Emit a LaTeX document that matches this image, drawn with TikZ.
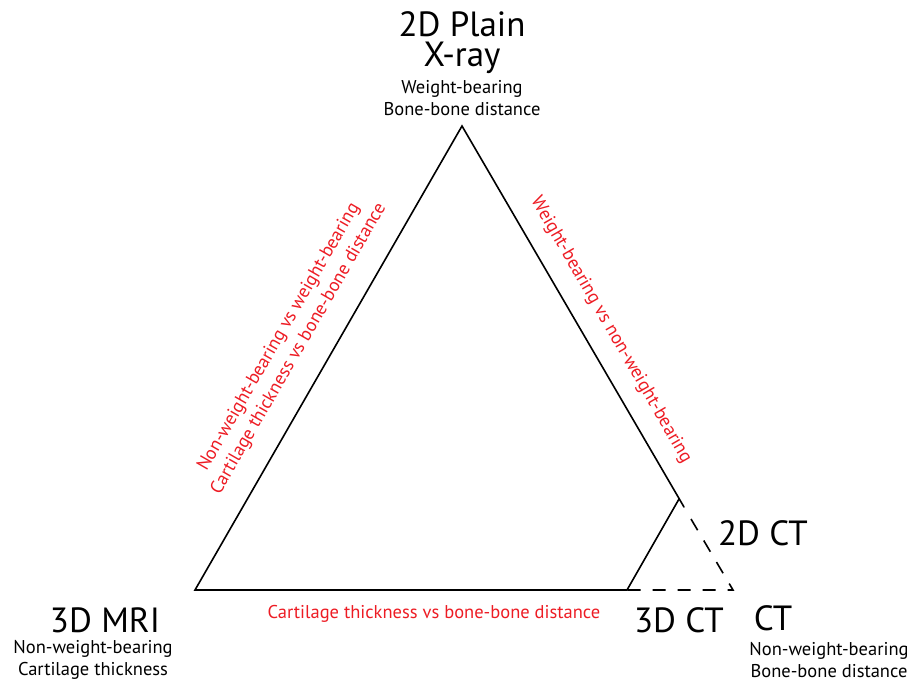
\documentclass[tikz,border=0pt]{standalone}
\usepackage{fontspec}
\setmainfont{PT Sans}
\definecolor{lblred}{RGB}{237,28,36}
\begin{document}
\begin{tikzpicture}[x=1pt,y=-1pt,
  edge/.style={line width=1.6pt, line cap=round},
  dashedge/.style={line width=1.6pt, dash pattern=on 13pt off 12pt},
  big/.style={font=\fontsize{35}{35}\selectfont, inner sep=0pt},
  small/.style={font=\fontsize{18.5}{22.5}\selectfont, inner sep=0pt, align=center},
  redlbl/.style={font=\fontsize{18.5}{23}\selectfont, text=lblred, inner sep=0pt, align=center}]
\useasboundingbox (0,0) rectangle (910,682);
\coordinate (A) at (462,126);
\coordinate (B) at (195,590);
\coordinate (C) at (733,590);
\coordinate (P) at (679,499);
\coordinate (Pe) at (684,507);
\coordinate (D) at (691,519);
\coordinate (Q) at (627,590);
% solid triangle part
\draw[edge] (Pe) -- (A) -- (B) -- (Q) -- (P);
% dashed part
\draw[dashedge] (D) -- (C) -- (Q);
% top labels
\node[big] (xr1) at (462,24) {2D Plain};
\node[big] (xr2) at (462,58) {X-ray};
\node[small] (xrs) at (462,98) {Weight-bearing\\Bone-bone distance};
% MRI
\node[big] (mri) at (105,620) {3D MRI};
\node[small] (mris) at (93,660) {Non-weight-bearing\\Cartilage thickness};
% CT
\node[big] (ct) at (773,618) {CT};
\node[small] (cts) at (829,660) {Non-weight-bearing\\Bone-bone distance};
\node[big] (ct2) at (763,533) {2D CT};
\node[big] (ct3) at (679,620) {3D CT};
% red labels
\node[redlbl, rotate=60] (l1) at (289,343) {Non-weight-bearing vs weight-bearing\\Cartilage thickness vs bone-bone distance};
\node[redlbl, rotate=-60] (l2) at (611,330) {Weight-bearing vs non-weight-bearing};
\node[redlbl] (l3) at (434,614) {Cartilage thickness vs bone-bone distance};
\end{tikzpicture}
\end{document}
